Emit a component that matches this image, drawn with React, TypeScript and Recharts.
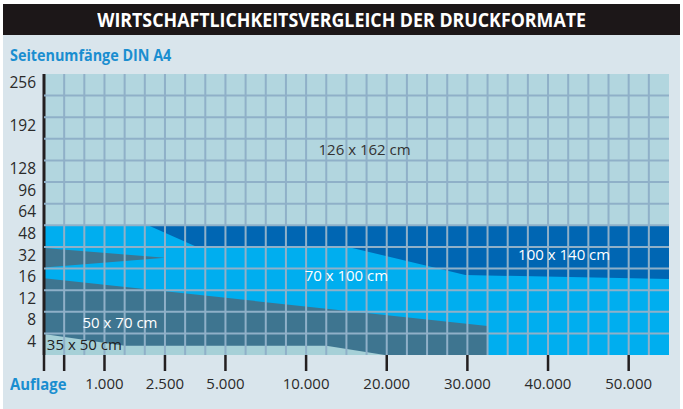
import React from 'react';
import { ComposedChart, Area, XAxis, YAxis, CartesianGrid, ReferenceDot } from 'recharts';

// Raster: x = Spalte (0..31), y = Zeile von unten (0..13)
const xTicks = [0, 1, 3, 6, 9, 13, 17, 21, 25, 29];
const xTickLabels = ['', '', '1.000', '2.500', '5.000', '10.000', '20.000', '30.000', '40.000', '50.000'];
const yTicks = [12.62, 10.62, 8.62, 7.62, 6.62, 5.62, 4.62, 3.62, 2.62, 1.62, 0.62];
const yTickLabels = ['256', '192', '128', '96', '64', '48', '32', '16', '12', '8', '4'];
const gridCols = [1, 2, 3, 4, 5, 6, 7, 8, 9, 10, 11, 12, 13, 14, 15, 16, 17, 18, 19, 20, 21, 22, 23, 24, 25, 26, 27, 28, 29, 30];
const gridRows = [1, 2, 3, 4, 5, 6, 7, 8, 9, 10, 11, 12];

// Eckpunkte der Formatflaechen, [von, bis] je Spalte
const xPoints = [0, 4, 5.16, 6, 7.59, 14, 15.08, 16.9, 20.9, 22, 31];
const f126 = [[0, 13], null, null, null, null, null, null, null, null, null, [0, 13]];
const f100 = [null, null, [6, 6], null, [5, 6], null, [5, 6], null, [3.7, 6], null, [3.52, 6]];
const f70 = [[0, 6], null, null, null, null, null, null, null, null, null, [0, 6]];
const f50 = [[0, 3.55], null, null, null, null, null, null, null, null, [0, 1.34], null];
const f50Spike = [[4.05, 4.95], null, null, [4.5, 4.5], null, null, null, null, null, null, null];
const f35 = [[0, 0.97], [0, 0.43], null, null, null, [0, 0.43], null, [0, 0], null, null, null];

const formatNames = ['126 x 162 cm', '100 x 140 cm', '70 x 100 cm', '50 x 70 cm', '35 x 50 cm'];
const nameX = [15.9, 25.8, 15.0, 3.77, 2.0];
const nameY = [9.5, 4.63, 3.66, 1.48, 0.46];
const nameColors = ['#333', '#fff', '#fff', '#fff', '#222'];

const rows = xPoints.map((x, i) => ({
  x,
  f126: f126[i] ?? undefined,
  f100: f100[i] ?? undefined,
  f70: f70[i] ?? undefined,
  f50: f50[i] ?? undefined,
  f50Spike: f50Spike[i] ?? undefined,
  f35: f35[i] ?? undefined,
}));

const areas = [
  { key: 'f126', color: '#b2d6df' },
  { key: 'f70', color: '#00aeef' },
  { key: 'f100', color: '#0066b3' },
  { key: 'f50Spike', color: '#3e7590' },
  { key: 'f50', color: '#3e7590' },
  { key: 'f35', color: '#a6d0d7' },
];

export default function App() {
  return (
    <div style={{ position: 'relative', width: 683, height: 409, background: '#fff', overflow: 'hidden', fontFamily: 'Open Sans' }}>
      <style>{'body{margin:0}'}</style>
      <div style={{ position: 'absolute', left: 3, top: 4, width: 677, height: 31, background: '#1c1718', color: '#fff', textAlign: 'center', fontWeight: 700, fontSize: 20, lineHeight: '31px' }}>
        <span style={{ display: 'inline-block', transform: 'scaleX(0.89)', whiteSpace: 'nowrap' }}>
          WIRTSCHAFTLICHKEITSVERGLEICH DER DRUCKFORMATE
        </span>
      </div>
      <div style={{ position: 'absolute', left: 3, top: 35, width: 677, height: 374, background: '#d9e5ec' }} />
      <div style={{ position: 'absolute', left: 10, top: 43, color: '#1a8ed0', fontWeight: 700, fontSize: 16.5, whiteSpace: 'nowrap', transformOrigin: 'left', transform: 'scaleX(0.87)' }}>
        Seitenumfänge DIN A4
      </div>
      <div style={{ position: 'absolute', left: 10, top: 372, color: '#1a8ed0', fontWeight: 700, fontSize: 16.5, whiteSpace: 'nowrap', transformOrigin: 'left', transform: 'scaleX(0.9)' }}>
        Auflage
      </div>
      <div style={{ position: 'absolute', left: 0, top: 64 }}>
        <ComposedChart width={683} height={345} data={rows} margin={{ top: 10, right: 14, left: 0, bottom: 0 }} style={{ fontFamily: 'Open Sans' }}>
          <XAxis
            dataKey="x"
            type="number"
            domain={[0, 31]}
            allowDataOverflow
            ticks={xTicks}
            interval={0}
            tickFormatter={(v) => xTickLabels[xTicks.indexOf(v)]}
            axisLine={false}
            tickLine={{ stroke: '#231f20', strokeWidth: 2.5 }}
            tickSize={16}
            tickMargin={7}
            height={54}
            tick={{ fill: '#2a2a2a', fontSize: 15 }}
          />
          <YAxis
            type="number"
            domain={[0, 13]}
            allowDataOverflow
            ticks={yTicks}
            interval={0}
            tickFormatter={(v) => yTickLabels[yTicks.indexOf(v)]}
            axisLine={{ stroke: '#231f20', strokeWidth: 3 }}
            tickLine={false}
            width={44}
            tick={{ fill: '#2a2a2a', fontSize: 15.5 }}
          />
          {areas.map((a) => (
            <Area
              key={a.key}
              dataKey={a.key}
              type="linear"
              stroke="none"
              fill={a.color}
              fillOpacity={1}
              connectNulls
              isAnimationActive={false}
              activeDot={false}
              dot={false}
            />
          ))}
          <CartesianGrid
            stroke="#8fb0c8"
            strokeWidth={2}
            verticalValues={gridCols}
            horizontalValues={gridRows}
            fill="none"
            zIndex={500}
          />
          {formatNames.map((n, i) => (
            <ReferenceDot
              key={n}
              x={nameX[i]}
              y={nameY[i]}
              r={0}
              fill="none"
              stroke="none"
              zIndex={600}
              label={{ value: n, fill: nameColors[i], fontSize: 15, position: 'center' }}
            />
          ))}
        </ComposedChart>
      </div>
    </div>
  );
}
